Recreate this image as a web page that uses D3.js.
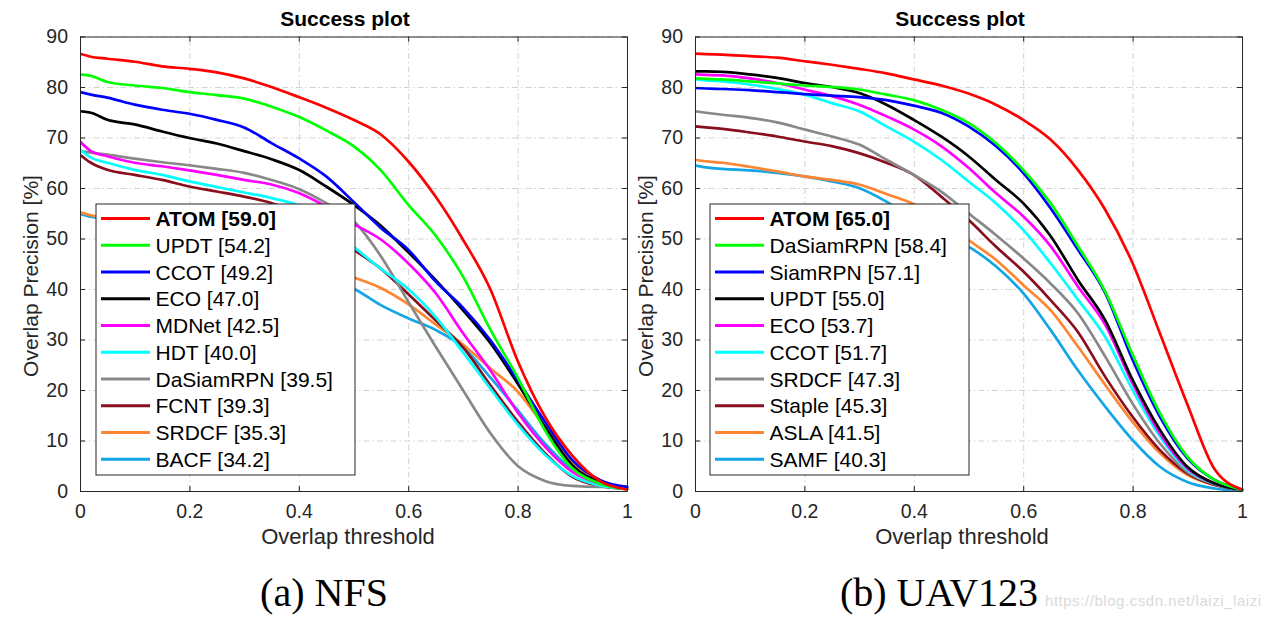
<!DOCTYPE html>
<html><head><meta charset="utf-8">
<script src="https://cdn.jsdelivr.net/npm/d3@7"></script>
<style>
html,body{margin:0;padding:0;background:#fff;}
svg{display:block;}
text{font-family:"Liberation Sans",Arial,Helvetica,sans-serif;}
text.caption{font-family:"Liberation Serif","Times New Roman",serif;}
</style></head><body>
<svg id="chart" width="1266" height="620"></svg>
<script>
// ---------- data ----------
const thresholds = [0, 0.02, 0.05, 0.1, 0.15, 0.2, 0.25, 0.3, 0.35, 0.4, 0.45, 0.5, 0.55, 0.6, 0.65, 0.7, 0.75, 0.8, 0.85, 0.9, 0.95, 1];
const xTickValues = [0, 0.2, 0.4, 0.6, 0.8, 1];
const yTickValues = [0, 10, 20, 30, 40, 50, 60, 70, 80, 90];

// NFS
const nfsNames  = ["ATOM", "UPDT", "CCOT", "ECO", "MDNet", "HDT", "DaSiamRPN", "FCNT", "SRDCF", "BACF"];
const nfsScores = [59.0, 54.2, 49.2, 47.0, 42.5, 40.0, 39.5, 39.3, 35.3, 34.2];
const nfsATOM  = [86.6, 86.0, 85.6, 85.0, 84.1, 83.6, 82.9, 81.7, 80.0, 78.0, 75.9, 73.5, 70.6, 65.3, 58.3, 49.8, 40.0, 25.8, 14.7, 7.0, 2.0, 0.3];
const nfsUPDT  = [82.5, 82.2, 81.0, 80.3, 79.8, 79.0, 78.4, 77.7, 76.1, 74.1, 71.4, 68.3, 63.5, 56.7, 50.6, 42.5, 32.0, 22.5, 12.0, 4.5, 1.5, 0.3];
const nfsCCOT  = [79.0, 78.5, 77.9, 76.5, 75.5, 74.7, 73.5, 72.0, 68.9, 65.9, 62.3, 57.3, 52.1, 47.8, 41.5, 36.3, 29.9, 22.0, 13.7, 6.1, 2.2, 0.8];
const nfsECO   = [75.2, 74.9, 73.5, 72.6, 71.2, 69.9, 68.8, 67.3, 65.7, 63.6, 60.3, 56.7, 52.5, 47.3, 41.8, 35.8, 29.3, 21.3, 12.7, 5.1, 1.8, 0.7];
const nfsMDNet = [69.2, 67.3, 66.3, 65.0, 64.3, 63.5, 62.6, 61.6, 60.7, 59.0, 56.3, 52.9, 49.8, 45.1, 39.2, 31.3, 23.9, 15.6, 8.8, 3.8, 1.5, 0.6];
const nfsHDT   = [67.6, 66.0, 65.0, 63.6, 62.6, 61.3, 60.2, 59.1, 58.0, 56.5, 53.0, 48.4, 44.0, 40.0, 34.5, 27.5, 20.3, 13.2, 7.2, 3.0, 1.1, 0.4];
const nfsDaSiamRPN = [67.3, 67.0, 66.6, 65.8, 65.1, 64.5, 63.8, 63.0, 61.6, 59.8, 57.0, 53.5, 46.5, 37.5, 28.6, 20.0, 11.5, 5.0, 2.0, 1.0, 0.8, 0.8];
const nfsFCNT  = [66.6, 65.0, 63.6, 62.6, 61.6, 60.3, 59.3, 58.3, 57.0, 55.0, 51.5, 47.8, 44.0, 39.0, 33.8, 28.5, 21.0, 13.8, 7.5, 2.8, 1.0, 0.4];
const nfsSRDCF = [55.2, 54.6, 54.0, 52.9, 51.8, 50.6, 49.5, 48.2, 46.9, 45.5, 44.0, 42.3, 40.2, 37.0, 33.0, 29.0, 24.3, 19.7, 12.7, 5.8, 2.2, 0.5];
const nfsBACF  = [54.9, 54.3, 53.7, 52.4, 51.1, 49.8, 48.5, 47.1, 45.6, 44.0, 42.2, 40.1, 36.8, 34.2, 31.9, 28.5, 22.5, 16.0, 9.4, 4.2, 1.5, 0.5];
const nfsCurves = [nfsATOM, nfsUPDT, nfsCCOT, nfsECO, nfsMDNet, nfsHDT, nfsDaSiamRPN, nfsFCNT, nfsSRDCF, nfsBACF];

// UAV123
const uavNames  = ["ATOM", "DaSiamRPN", "SiamRPN", "UPDT", "ECO", "CCOT", "SRDCF", "Staple", "ASLA", "SAMF"];
const uavScores = [65.0, 58.4, 57.1, 55.0, 53.7, 51.7, 47.3, 45.3, 41.5, 40.3];
const uavATOM  = [86.6, 86.5, 86.4, 86.1, 85.8, 85.1, 84.4, 83.6, 82.7, 81.5, 80.3, 78.7, 76.5, 73.5, 69.6, 63.6, 55.7, 45.1, 31.2, 17.2, 4.3, 0.3];
const uavDaSiamRPN = [81.7, 81.6, 81.5, 81.1, 80.7, 80.3, 80.0, 79.5, 78.5, 77.4, 75.5, 72.9, 68.9, 63.6, 57.0, 48.5, 39.5, 27.0, 15.4, 6.8, 2.2, 0.3];
const uavSiamRPN = [79.8, 79.7, 79.6, 79.4, 79.0, 78.6, 78.3, 78.0, 77.4, 76.3, 74.9, 72.2, 68.3, 63.0, 56.0, 47.8, 39.2, 26.0, 14.7, 6.5, 2.2, 0.3];
const uavUPDT  = [83.1, 83.1, 83.0, 82.5, 81.8, 80.8, 80.0, 78.8, 76.5, 73.5, 70.2, 66.3, 61.6, 57.0, 50.5, 41.8, 33.8, 22.0, 12.1, 4.8, 1.5, 0.3];
const uavECO   = [82.5, 82.4, 82.3, 81.7, 80.8, 79.5, 78.2, 76.5, 74.2, 71.6, 68.3, 64.0, 59.0, 54.4, 48.5, 40.5, 32.9, 21.3, 11.4, 4.5, 1.5, 0.3];
const uavCCOT  = [81.5, 81.3, 81.1, 80.5, 79.6, 78.5, 76.8, 75.2, 72.2, 69.2, 65.6, 61.3, 57.0, 51.7, 45.1, 37.9, 30.5, 20.0, 10.8, 4.2, 1.4, 0.2];
const uavSRDCF = [75.2, 74.9, 74.5, 73.9, 73.0, 71.6, 70.2, 68.6, 65.6, 62.6, 59.3, 55.0, 50.7, 46.1, 41.1, 35.2, 26.6, 17.3, 9.4, 3.8, 1.4, 0.2];
const uavStaple = [72.2, 72.0, 71.7, 71.0, 70.2, 69.2, 68.3, 66.9, 65.0, 62.6, 58.3, 53.7, 48.4, 43.5, 37.8, 31.5, 22.6, 14.7, 8.1, 3.5, 1.2, 0.2];
const uavASLA  = [65.6, 65.3, 65.0, 64.2, 63.3, 62.3, 61.6, 60.7, 58.8, 56.8, 53.9, 49.7, 45.8, 40.8, 35.8, 28.6, 21.0, 13.7, 7.5, 3.2, 1.2, 0.2];
const uavSAMF  = [64.5, 64.1, 63.8, 63.5, 63.0, 62.3, 61.3, 60.0, 57.3, 54.0, 51.0, 48.4, 44.5, 39.2, 31.9, 23.9, 16.7, 10.1, 4.8, 1.8, 0.5, 0.0];
const uavCurves = [uavATOM, uavDaSiamRPN, uavSiamRPN, uavUPDT, uavECO, uavCCOT, uavSRDCF, uavStaple, uavASLA, uavSAMF];

const palette = ["#ff0000", "#00ff00", "#0000ff", "#000000", "#ff00ff", "#00ffff", "#888888", "#8a0f1e", "#ff8533", "#14a5e6"];

// ---------- drawing ----------
const svg = d3.select("#chart");

const panels = [
  {names: nfsNames, scores: nfsScores, curves: nfsCurves, x0: 80, x1: 627, titleX: 345, xlabX: 348, ylabX: 38, legX: 96, caption: "(a) NFS", capX: 324},
  {names: uavNames, scores: uavScores, curves: uavCurves, x0: 695, x1: 1242, titleX: 960, xlabX: 962, ylabX: 653, legX: 710, caption: "(b) UAV123", capX: 939}
];

const yTop = 36.5, yBot = 491;

panels.forEach((p, pi) => {
  const x = d3.scaleLinear().domain([0, 1]).range([p.x0, p.x1]);
  const y = d3.scaleLinear().domain([0, 90]).range([yBot, yTop]);
  const g = svg.append("g");

  // grid
  const grid = g.append("g").attr("class", "grid");
  grid.append("g").attr("transform", `translate(0,${yBot})`)
    .call(d3.axisBottom(x).tickValues(xTickValues).tickSize(-(yBot - yTop)).tickFormat(""));
  grid.append("g").attr("transform", `translate(${p.x0},0)`)
    .call(d3.axisLeft(y).tickValues(yTickValues).tickSize(-(p.x1 - p.x0)).tickFormat(""));
  grid.selectAll(".domain").remove();
  grid.selectAll("line").attr("stroke", "#d2d2d2").attr("stroke-width", 1).attr("stroke-dasharray", "6,3,1.5,3");

  // curves
  const clipId = "clip" + pi;
  svg.append("clipPath").attr("id", clipId).append("rect")
    .attr("x", p.x0).attr("y", yTop - 2).attr("width", p.x1 - p.x0 + 2).attr("height", yBot - yTop + 4);
  const line = d3.line().x((d, i) => x(thresholds[i])).y(d => y(d)).curve(d3.curveMonotoneX);
  const cg = g.append("g").attr("clip-path", `url(#${clipId})`);
  for (let i = p.curves.length - 1; i >= 0; i--) {
    cg.append("path").datum(p.curves[i]).attr("d", line)
      .attr("fill", "none").attr("stroke", palette[i]).attr("stroke-width", 2.7)
      .attr("stroke-linejoin", "round").attr("stroke-linecap", "round");
  }

  // axes (box with inward ticks)
  const axisStyle = sel => {
    sel.selectAll(".domain").attr("stroke", "#262626").attr("stroke-width", 1);
    sel.selectAll(".tick line").attr("stroke", "#262626").attr("stroke-width", 1);
    sel.selectAll("text").attr("font-size", "19.5px").attr("fill", "#262626");
  };
  g.append("g").attr("transform", `translate(0,${yBot})`)
    .call(d3.axisBottom(x).tickValues(xTickValues).tickSize(-5).tickSizeOuter(0).tickPadding(13).tickFormat(d3.format("")))
    .call(axisStyle);
  g.append("g").attr("transform", `translate(0,${yTop})`)
    .call(d3.axisTop(x).tickValues(xTickValues).tickSize(-5).tickSizeOuter(0).tickFormat(""))
    .call(axisStyle);
  g.append("g").attr("transform", `translate(${p.x0},0)`)
    .call(d3.axisLeft(y).tickValues(yTickValues).tickSize(-5).tickSizeOuter(0).tickPadding(12))
    .call(axisStyle);
  g.append("g").attr("transform", `translate(${p.x1},0)`)
    .call(d3.axisRight(y).tickValues(yTickValues).tickSize(-5).tickSizeOuter(0).tickFormat(""))
    .call(axisStyle);

  // title & labels
  g.append("text").attr("x", p.titleX).attr("y", 26).attr("text-anchor", "middle")
    .attr("font-size", "21px").attr("font-weight", "bold").attr("fill", "#000").text("Success plot");
  g.append("text").attr("x", p.xlabX).attr("y", 544).attr("text-anchor", "middle")
    .attr("font-size", "22px").attr("fill", "#262626").text("Overlap threshold");
  g.append("text").attr("transform", `translate(${p.ylabX},276) rotate(-90)`).attr("text-anchor", "middle")
    .attr("font-size", "21px").attr("fill", "#262626").text("Overlap Precision [%]");

  // legend
  const lg = g.append("g");
  lg.append("rect").attr("x", p.legX).attr("y", 204).attr("width", 259).attr("height", 271)
    .attr("fill", "#fff").attr("stroke", "#262626").attr("stroke-width", 1);
  p.names.forEach((n, i) => {
    const ly = 218.5 + i * 26.75;
    lg.append("line").attr("x1", p.legX + 5).attr("x2", p.legX + 54).attr("y1", ly).attr("y2", ly)
      .attr("stroke", palette[i]).attr("stroke-width", 3);
    lg.append("text").attr("x", p.legX + 59.5).attr("y", ly + 7.5)
      .attr("font-size", "21px").attr("fill", "#000")
      .attr("font-weight", i === 0 ? "bold" : "normal")
      .text(`${n} [${p.scores[i].toFixed(1)}]`);
  });

  // caption
  svg.append("text").attr("class", "caption").attr("x", p.capX).attr("y", 606).attr("text-anchor", "middle")
    .attr("font-size", "40px").attr("fill", "#000").text(p.caption);
});

// watermark
svg.append("text").attr("x", 1045).attr("y", 606).attr("font-size", "15px").attr("letter-spacing", "0.55px")
  .attr("fill", "#dadada").text("https://blog.csdn.net/laizi_laizi");
</script>
</body></html>
